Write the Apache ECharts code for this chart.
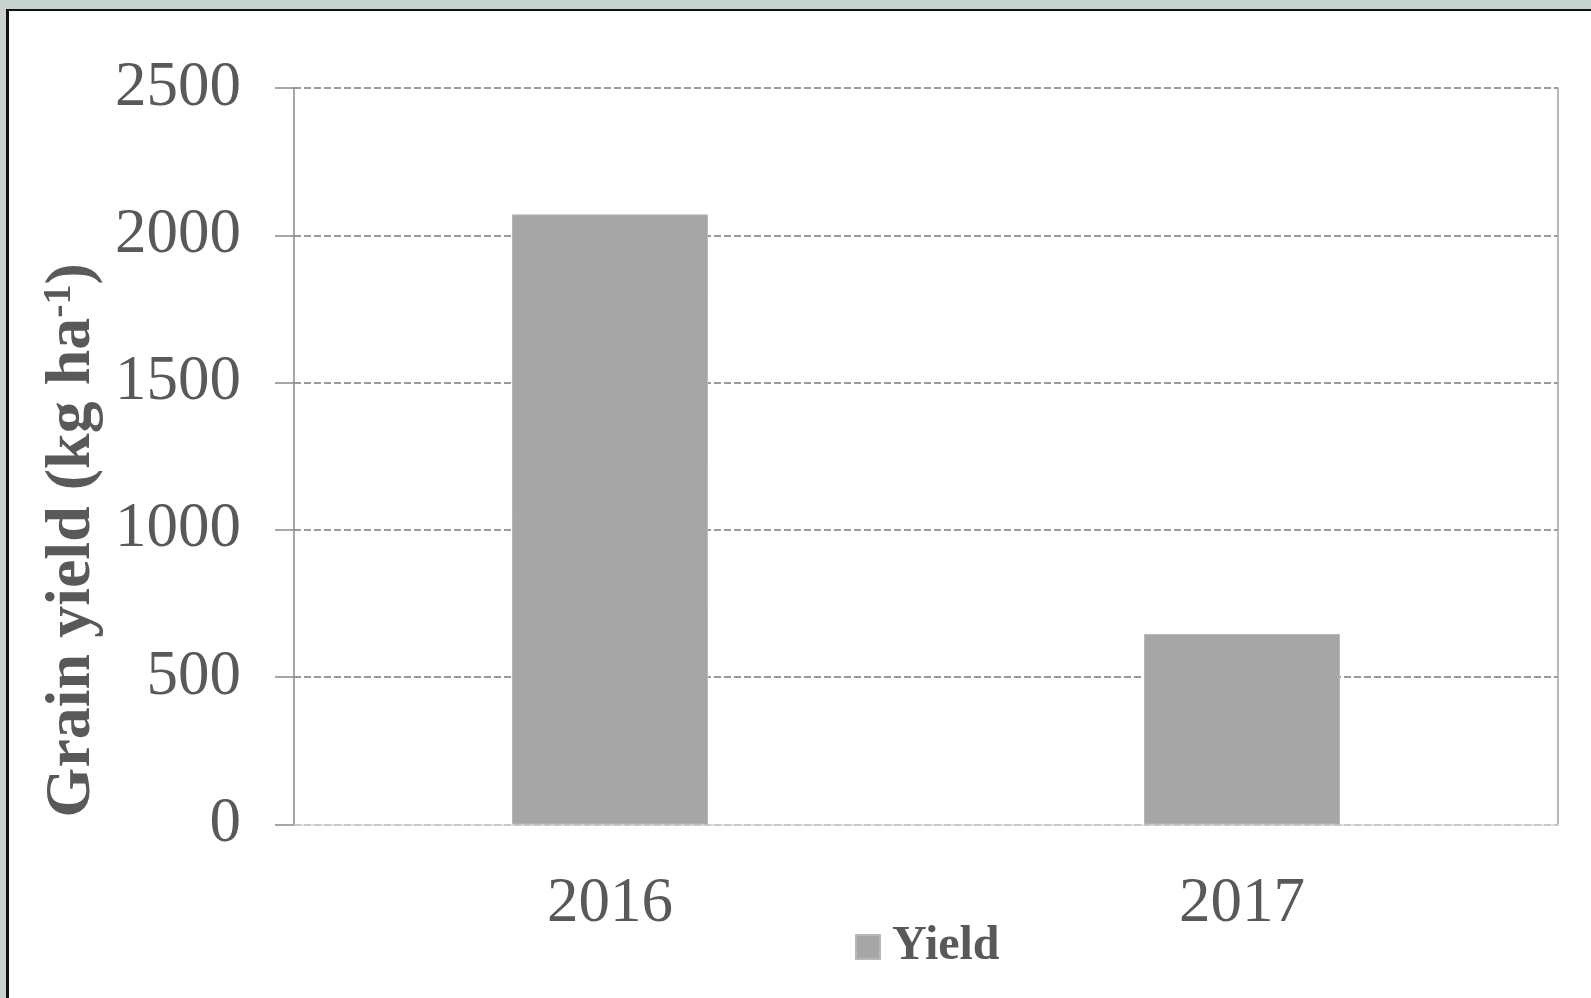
<!DOCTYPE html>
<html>
<head>
<meta charset="utf-8">
<script src="https://cdn.jsdelivr.net/npm/echarts@6/dist/echarts.min.js"></script>
<style>
  html, body { margin: 0; padding: 0; width: 1591px; height: 998px; overflow: hidden; background: #c7d4cd; }
  #panel { position: absolute; left: 6px; top: 9px; width: 1600px; height: 1000px; background: #ffffff; border-left: 3px solid #111; border-top: 2px solid #111; }
  #chart { position: absolute; left: 0; top: 0; width: 1591px; height: 998px; }
</style>
</head>
<body>
<div id="panel"></div>
<div id="chart"></div>
<script>
const categories = ['2016', '2017'];
const yieldValues = [2071, 647];
const seriesName = 'Yield';
const yTicks = { min: 0, max: 2500, interval: 500 };

const chart = echarts.init(document.getElementById('chart'), null, { renderer: 'canvas' });
const serif = "'Liberation Serif', 'Times New Roman', serif";
const textColor = '#595959';

chart.setOption({
  backgroundColor: 'transparent',
  animation: false,
  grid: { left: 294, right: 33, top: 88, bottom: 173.5, containLabel: false },
  legend: {
    data: [seriesName],
    left: 850,
    top: 918,
    icon: 'rect',
    itemWidth: 24,
    itemHeight: 24,
    textStyle: { fontFamily: serif, fontWeight: 'bold', fontSize: 48, color: textColor, padding: [0, 0, 0, 7] }
  },
  xAxis: {
    type: 'category',
    data: categories,
    axisLine: { show: true, lineStyle: { color: '#d9d9d9', width: 1.5 } },
    axisTick: { show: false },
    axisLabel: { fontFamily: serif, fontSize: 63, color: textColor, margin: 48 }
  },
  yAxis: [
    {
      type: 'value',
      min: yTicks.min, max: yTicks.max, interval: yTicks.interval,
      name: 'Grain yield (kg ha{sup|-1})',
      nameLocation: 'middle',
      nameRotate: 90,
      nameGap: 173,
      nameTextStyle: {
        fontFamily: serif, fontWeight: 'bold', fontSize: 64, color: textColor,
        padding: [0, 168, 0, 0],
        rich: { sup: { fontFamily: serif, fontWeight: 'bold', fontSize: 40, color: textColor, verticalAlign: 'top', padding: [0, 0, 22, 0] } }
      },
      axisLine: { show: true, lineStyle: { color: '#8a8a8a', width: 1.5 } },
      axisTick: { show: true, inside: false, length: 19, lineStyle: { color: '#8a8a8a', width: 1.5 } },
      axisLabel: { fontFamily: serif, fontSize: 63, color: textColor, margin: 53, formatter: (v) => String(v) },
      splitLine: { show: true, lineStyle: { color: '#7a7a7a', width: 1.5, type: [7, 3] } }
    },
    {
      type: 'value',
      min: yTicks.min, max: yTicks.max, interval: yTicks.interval,
      position: 'right',
      axisLine: { show: true, lineStyle: { color: '#a0a0a0', width: 1.5 } },
      axisTick: { show: false },
      axisLabel: { show: false },
      splitLine: { show: false }
    }
  ],
  series: [{
    name: seriesName,
    type: 'bar',
    data: yieldValues,
    barWidth: '31%',
    itemStyle: { color: '#a6a6a6', borderColor: '#b8b8b8', borderWidth: 1 }
  }]
});
</script>
</body>
</html>
